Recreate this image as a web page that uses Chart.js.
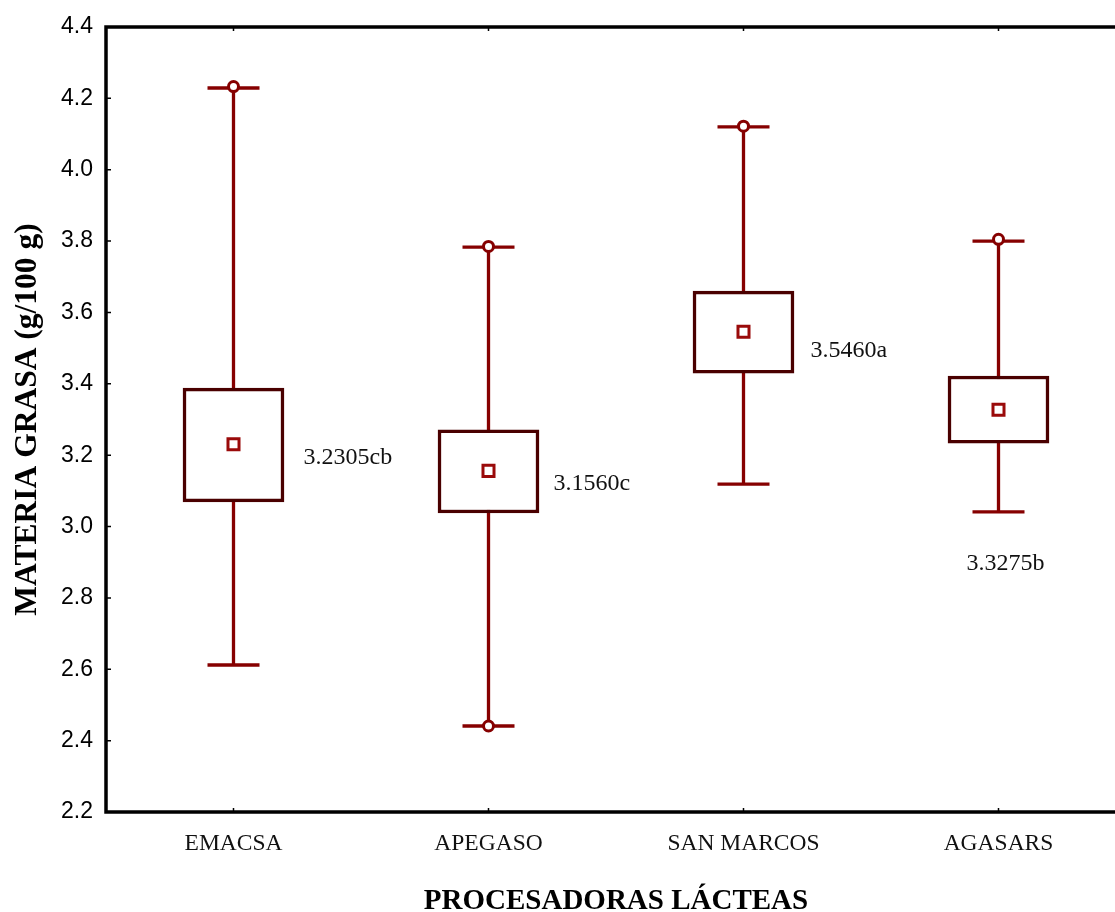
<!DOCTYPE html>
<html>
<head>
<meta charset="utf-8">
<title>Materia grasa por procesadora</title>
<script src="https://cdn.jsdelivr.net/npm/chart.js@4.4.1/dist/chart.umd.min.js"></script>
<style>
  html, body { margin: 0; padding: 0; background: #fff; overflow: hidden; }
  #wrap { width: 1140px; height: 912px; }
</style>
</head>
<body>
<div id="wrap"><canvas id="c" width="1140" height="912"></canvas></div>
<script>
// Processing plants on the x axis
const categories = ['EMACSA', 'APEGASO', 'SAN MARCOS', 'AGASARS'];
// Mean fat content (g/100 g) and significance letters
const means = [3.2305, 3.1560, 3.5460, 3.3275];
const letters = ['cb', 'c', 'a', 'b'];
// Box limits
const boxLow = [3.069, 3.038, 3.430, 3.234];
const boxHigh = [3.388, 3.271, 3.660, 3.422];
// Whisker limits
const whiskerLow = [2.612, 2.441, 3.119, 3.041];
const whiskerHigh = [4.229, 3.783, 4.120, 3.800];
// Marked extreme values (null where none)
const extremeHigh = [4.233, 3.785, 4.122, 3.805];
const extremeLow = [null, 2.441, null, null];
// Value axis ticks
const yTicks = [2.2, 2.4, 2.6, 2.8, 3.0, 3.2, 3.4, 3.6, 3.8, 4.0, 4.2, 4.4];

const WHISKER = '#860000';
const BOX = '#4a0000';
const MEAN = '#9a0a0a';

// whiskers and caps, drawn beneath the boxes
const whiskerPlugin = {
  id: 'whiskers',
  beforeDatasetsDraw(chart) {
    const {ctx, scales: {x, y}} = chart;
    ctx.save();
    ctx.strokeStyle = WHISKER;
    ctx.lineWidth = 3.3;
    ctx.lineCap = 'butt';
    categories.forEach((c, i) => {
      const cx = x.getPixelForValue(i);
      const yLo = y.getPixelForValue(whiskerLow[i]);
      const yHi = y.getPixelForValue(whiskerHigh[i]);
      ctx.beginPath();
      ctx.moveTo(cx, yLo); ctx.lineTo(cx, yHi);
      ctx.moveTo(cx - 26, yLo); ctx.lineTo(cx + 26, yLo);
      ctx.moveTo(cx - 26, yHi); ctx.lineTo(cx + 26, yHi);
      ctx.stroke();
    });
    ctx.restore();
  }
};

// mean value labels beside each box
const meanLabelPlugin = {
  id: 'meanLabels',
  afterDatasetsDraw(chart, args, opts) {
    const {ctx, scales: {x, y}} = chart;
    ctx.save();
    ctx.font = '24px "Liberation Serif", "Times New Roman", serif';
    ctx.fillStyle = '#111';
    ctx.textAlign = 'left';
    ctx.textBaseline = 'middle';
    means.forEach((m, i) => {
      const p = opts.place[i];
      ctx.fillText(m.toFixed(4) + letters[i], x.getPixelForValue(i) + p.dx, y.getPixelForValue(m) + p.dy);
    });
    ctx.restore();
  }
};

// plot frame with small inward tick marks
const framePlugin = {
  id: 'frame',
  afterDraw(chart) {
    const {ctx, chartArea: a, scales: {x, y}} = chart;
    ctx.save();
    ctx.strokeStyle = '#000';
    ctx.lineWidth = 1.5;
    ctx.beginPath();
    yTicks.forEach(v => {
      const py = y.getPixelForValue(v);
      ctx.moveTo(a.left, py); ctx.lineTo(a.left + 5, py);
    });
    categories.forEach((c, i) => {
      const px = x.getPixelForValue(i);
      ctx.moveTo(px, a.bottom); ctx.lineTo(px, a.bottom - 4);
      ctx.moveTo(px, a.top); ctx.lineTo(px, a.top + 4);
    });
    ctx.stroke();
    ctx.lineWidth = 3.5;
    ctx.strokeRect(a.left, a.top, a.right - a.left, a.bottom - a.top);
    ctx.restore();
  }
};

new Chart(document.getElementById('c'), {
  data: {
    labels: categories,
    datasets: [
      {
        type: 'bar',
        order: 3,
        data: categories.map((c, i) => [boxLow[i], boxHigh[i]]),
        backgroundColor: '#ffffff',
        borderColor: BOX,
        borderWidth: 3.5,
        borderSkipped: false,
        barThickness: 101
      },
      {
        type: 'line',
        order: 1,
        data: means,
        showLine: false,
        pointStyle: 'rect',
        pointRadius: 7.8,
        pointBorderWidth: 3,
        pointBorderColor: MEAN,
        pointBackgroundColor: '#fff'
      },
      {
        type: 'line',
        order: 0,
        data: extremeHigh,
        showLine: false,
        pointStyle: 'circle',
        pointRadius: 5,
        pointBorderWidth: 3,
        pointBorderColor: WHISKER,
        pointBackgroundColor: '#fff'
      },
      {
        type: 'line',
        order: 0,
        data: extremeLow,
        showLine: false,
        pointStyle: 'circle',
        pointRadius: 5,
        pointBorderWidth: 3,
        pointBorderColor: WHISKER,
        pointBackgroundColor: '#fff'
      }
    ]
  },
  options: {
    responsive: false,
    animation: false,
    events: [],
    layout: { padding: { top: 27, right: 14, left: 0, bottom: 0 } },
    plugins: {
      legend: { display: false },
      tooltip: { enabled: false },
      meanLabels: {
        place: [ { dx: 70, dy: 13 }, { dx: 65, dy: 13 }, { dx: 67, dy: 19 }, { dx: -32, dy: 154 } ]
      }
    },
    scales: {
      x: {
        type: 'category',
        offset: true,
        grid: { display: false, drawTicks: false },
        border: { display: false },
        ticks: {
          padding: 18,
          color: '#111',
          font: { family: '"Liberation Serif", "Times New Roman", serif', size: 23.5 }
        },
        title: {
          display: true,
          text: 'PROCESADORAS LÁCTEAS',
          color: '#000',
          padding: { top: 0, bottom: 0 },
          font: { family: '"Liberation Serif", "Times New Roman", serif', size: 29, weight: 'bold', lineHeight: 0.72 }
        },
        afterFit(s) { s.height = 100; }
      },
      y: {
        min: 2.2,
        max: 4.4,
        afterBuildTicks(s) { s.ticks = yTicks.map(v => ({ value: v })); },
        grid: { display: false, drawTicks: false },
        border: { display: false },
        ticks: {
          padding: 13,
          color: '#000',
          font: { family: '"Liberation Sans", Arial, sans-serif', size: 23 },
          callback: v => Number(v).toFixed(1)
        },
        title: {
          display: true,
          text: 'MATERIA GRASA (g/100 g)',
          color: '#000',
          padding: { top: 12, bottom: 0 },
          font: { family: '"Liberation Serif", "Times New Roman", serif', size: 31.5, weight: 'bold', lineHeight: 1 }
        },
        afterFit(s) { s.width = 106; }
      }
    }
  },
  plugins: [whiskerPlugin, meanLabelPlugin, framePlugin]
});
</script>
</body>
</html>
